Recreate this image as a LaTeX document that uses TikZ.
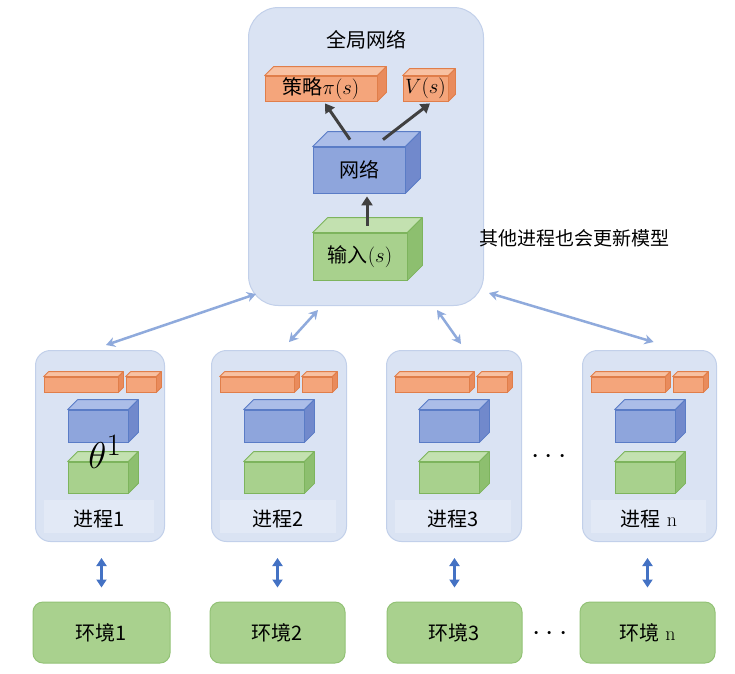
\documentclass[tikz,border=0pt]{standalone}
\usepackage{fontspec}
\newfontfamily\cjk{Noto Sans CJK SC}
\usetikzlibrary{arrows.meta,calc}
\definecolor{gbF}{HTML}{DAE3F3}
\definecolor{gbD}{HTML}{C2D0EA}
\definecolor{bandC}{HTML}{E2E9F6}
\definecolor{orF}{HTML}{F4A57B}
\definecolor{orT}{HTML}{F8C1A2}
\definecolor{orS}{HTML}{E98B5C}
\definecolor{orD}{HTML}{E07E4A}
\definecolor{blF}{HTML}{8EA5DC}
\definecolor{blT}{HTML}{ABBDE8}
\definecolor{blS}{HTML}{7189CC}
\definecolor{blD}{HTML}{5A7CC6}
\definecolor{grF}{HTML}{A8D18D}
\definecolor{grT}{HTML}{C3E1B0}
\definecolor{grS}{HTML}{8DBF6F}
\definecolor{grD}{HTML}{7DB45D}
\definecolor{envF}{HTML}{A9D18E}
\definecolor{envD}{HTML}{93C276}
\definecolor{arL}{HTML}{8FAADC}
\definecolor{arB}{HTML}{4472C4}
\definecolor{arD}{HTML}{404040}
\newcommand\cubeAt[8]{%
  \node[cubefront=#7, minimum width=#4, minimum height=#5] (#1) at (#2,#3) {#8};
  \path[draw=#7D, fill=#7T, line join=round, line width=0.8pt] (#1.north west) -- ++(#6,-#6) -- ([shift={(#6,-#6)}]#1.north east) -- (#1.north east) -- cycle;
  \path[draw=#7D, fill=#7S, line join=round, line width=0.8pt] (#1.north east) -- ++(#6,-#6) -- ([shift={(#6,-#6)}]#1.south east) -- (#1.south east) -- cycle;
}
\newcommand\procbox[4]{% id, left, width, label
  \node[procstyle, minimum width=#3, minimum height=191, anchor=north west] (p#1) at (#2,350) {};
  \fill[bandC] (#2+9,500) rectangle (#2+#3-10,533);
  \cubeAt{p#1a}{#2+46}{384.5}{74}{15}{5}{or}{}
  \cubeAt{p#1b}{#2+106}{384.5}{30}{15}{5}{or}{}
  \cubeAt{p#1c}{#2+63}{426}{60}{32}{10}{bl}{}
  \cubeAt{p#1d}{#2+63}{477.5}{60}{31}{10}{gr}{}
  \node[lbl] (p#1l) at (#2+#3/2,519) {#4};
}
\begin{document}
\begin{tikzpicture}[x=1pt,y=-1pt,
  cubefront/.style={draw=#1D, fill=#1F, inner sep=0pt, line width=0.8pt},
  gbox/.style={draw=gbD, fill=gbF, line width=1pt, rounded corners=30pt},
  procstyle/.style={draw=gbD, fill=gbF, line width=1pt, rounded corners=15pt},
  envbox/.style={draw=envD, fill=envF, line width=1pt, rounded corners=10pt, minimum height=61, font=\fontsize{20}{24}\selectfont},
  lbl/.style={font=\fontsize{20}{24}\selectfont},
  dotsty/.style={font=\Huge, scale=1.2},
  darrow/.style={draw=arD, line width=3pt, -{Triangle[length=9pt,width=11pt]}},
  larrow/.style={draw=arL, line width=2.5pt, {Stealth[length=9pt,width=10pt]}-{Stealth[length=9pt,width=10pt]}},
  varrow/.style={draw=arB, line width=2.5pt, {Triangle[length=8pt,width=10pt]}-{Triangle[length=8pt,width=10pt]}}
]
\useasboundingbox (0,0) rectangle (735,673);
\fill[white] (0,0) rectangle (735,673);
% global box
\node[gbox, minimum width=235, minimum height=298, anchor=north west] (g) at (248,7) {};
\node[lbl] (gt) at (366,40) {\cjk 全局网络};
\cubeAt{pol}{321}{88.5}{112}{25}{9}{or}{\fontsize{20}{24}\selectfont{\cjk 策略}$\pi(s)$}
\cubeAt{val}{425.5}{88.5}{45}{25}{7}{or}{\fontsize{20}{24}\selectfont$V(s)$}
\cubeAt{net}{359}{170}{92}{46}{15}{bl}{\fontsize{20}{24}\selectfont\cjk 网络}
\cubeAt{inp}{360}{256.5}{94}{47}{15}{gr}{\fontsize{20}{24}\selectfont{\cjk 输入}$(s)$}
\draw[darrow] ([shift={(-9,-7)}]net.north) -- ([shift={(4,2)}]pol.south);
\draw[darrow] ([shift={(24,-7)}]net.north) -- ([shift={(4.5,2)}]val.south);
\draw[darrow] ([shift={(7,-7)}]inp.north) -- ([shift={(8,3)}]net.south);
\node[anchor=west, font=\fontsize{19}{22}\selectfont] (note) at (476,238) {\cjk 其他进程也会更新模型};
% processes
\procbox{1}{35}{129}{\cjk 进程1}
\procbox{2}{211}{135}{\cjk 进程2}
\procbox{3}{386}{135}{\cjk 进程3}
\procbox{4}{582}{134}{{\cjk 进程} n}
\node[font=\Huge, scale=1.5, inner sep=0pt] (theta) at (105,452) {$\theta^1$};
\node[dotsty] (dots1) at (549,457) {$\cdots$};
% environments
\node[envbox, minimum width=137] (e1) at (101.5,632.5) {\cjk 环境1};
\node[envbox, minimum width=135] (e2) at (277.5,632.5) {\cjk 环境2};
\node[envbox, minimum width=135] (e3) at (454.5,632.5) {\cjk 环境3};
\node[envbox, minimum width=135] (e4) at (647.5,632.5) {{\cjk 环境} n};
\node[dotsty] (dots2) at (550,634) {$\cdots$};
% arrows global <-> processes
\coordinate (a1s) at ([shift={(6,-5)}]p1.north);
\coordinate (a1e) at ([shift={(8,-12)}]g.south west);
\coordinate (a2s) at ([shift={(10,-8)}]p2.north);
\coordinate (a2e) at ([shift={(-48,4)}]g.south);
\coordinate (a3s) at ([shift={(7,-6)}]p3.north);
\coordinate (a3e) at ([shift={(71,4)}]g.south);
\coordinate (a4s) at ([shift={(4,-8)}]p4.north);
\coordinate (a4e) at ([shift={(5,-13)}]g.south east);
\draw[larrow] (a1s) -- (a1e);
\draw[larrow] (a2s) -- (a2e);
\draw[larrow] (a3s) -- (a3e);
\draw[larrow] (a4s) -- (a4e);
% processes <-> environments
\foreach \i in {1,2,3,4}{
  \draw[varrow] ([yshift=14pt]e\i.north) -- ([yshift=-16pt]e\i.north |- p\i.south);
}
\end{tikzpicture}
\end{document}
